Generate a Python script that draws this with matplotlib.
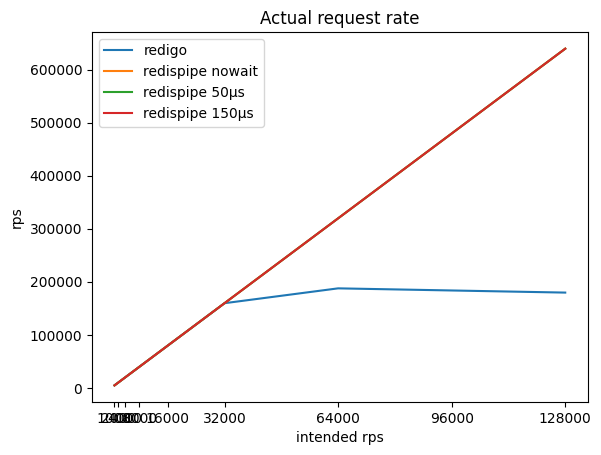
import matplotlib
matplotlib.use("Agg")
import matplotlib.pyplot as plt

intended = [1000, 2000, 4000, 8000, 16000, 32000, 64000, 96000, 128000]
redigo = [5000, 10000, 20000, 40000, 80000, 160000, 188000, 184000, 180000]
nowait = [5000, 10000, 20000, 40000, 80000, 160000, 320000, 480000, 640000]
pipe50 = [5000, 10000, 20000, 40000, 80000, 160000, 320000, 480000, 640000]
pipe150 = [5000, 10000, 20000, 40000, 80000, 160000, 320000, 480000, 640000]

fig, ax = plt.subplots(figsize=(6.01, 4.55), dpi=100)
fig.subplots_adjust(left=0.153, right=0.978, top=0.930, bottom=0.116)
ax.plot(intended, redigo, label="redigo")
ax.plot(intended, nowait, label="redispipe nowait")
ax.plot(intended, pipe50, label="redispipe 50µs")
ax.plot(intended, pipe150, label="redispipe 150µs")
ax.set_xticks(intended)
ax.set_xlabel("intended rps")
ax.set_ylabel("rps")
ax.set_title("Actual request rate")
ax.legend()
fig.savefig("out.png")
